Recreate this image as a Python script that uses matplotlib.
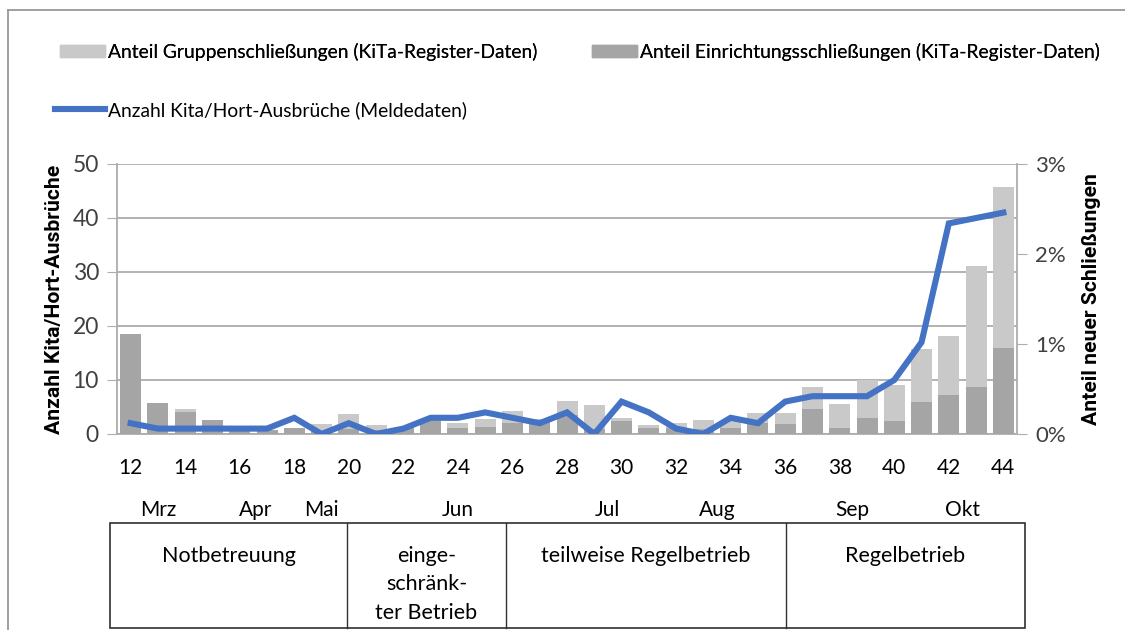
import numpy as np
import matplotlib
matplotlib.use("Agg")
import matplotlib.pyplot as plt
from matplotlib.patches import Rectangle
from matplotlib.lines import Line2D
from matplotlib.ticker import PercentFormatter
from matplotlib.transforms import blended_transform_factory

plt.rcParams["font.family"] = ["Lato", "DejaVu Sans"]

# calendar weeks 12..44
weeks = list(range(12, 45))
# share of new facility closures (dark) and group closures (light, stacked on top), in %
einrichtung = [1.11, 0.34, 0.25, 0.16, 0.05, 0.04, 0.07, 0.03, 0.06, 0.05, 0.07, 0.15,
               0.07, 0.08, 0.12, 0.13, 0.21, 0.06, 0.14, 0.07, 0.07, 0.06, 0.07, 0.12,
               0.11, 0.28, 0.07, 0.18, 0.14, 0.36, 0.43, 0.52, 0.96]
gruppe = [0.00, 0.00, 0.03, 0.00, 0.01, 0.01, 0.00, 0.08, 0.16, 0.05, 0.00, 0.01,
          0.05, 0.09, 0.14, 0.04, 0.16, 0.26, 0.04, 0.03, 0.05, 0.10, 0.07, 0.11,
          0.12, 0.24, 0.26, 0.42, 0.40, 0.58, 0.66, 1.35, 1.79]
# number of Kita/Hort outbreaks (reporting data)
ausbrueche = [2, 1, 1, 1, 1, 1, 3, 0, 2, 0, 1, 3, 3, 4, 3, 2, 4, 0, 6, 4, 1, 0,
              3, 2, 6, 7, 7, 7, 10, 17, 39, 40, 41]

month_labels = ["Mrz", "Apr", "Mai", "Jun", "Jul", "Aug", "Sep", "Okt"]
month_pos = [13.0, 16.6, 19.0, 24.0, 29.5, 33.5, 38.45, 42.5]
phases = ["Notbetreuung", "einge-\nschränk-\nter Betrieb", "teilweise Regelbetrieb", "Regelbetrieb"]
phase_bounds_px = [110, 347, 506, 786, 1025]

C_LIGHT = "#C9C9C9"
C_DARK = "#A5A5A5"
C_LINE = "#4472C4"
C_GRID = "#ADADAD"
FS = 15
BOLD = ["Roboto", "DejaVu Sans"]

W, H = 1125, 630
fig = plt.figure(figsize=(W / 100, H / 100), dpi=100)

def px(x, y):
    return x / W, 1 - y / H

l, b = px(117, 434)
r, t = px(1017, 164)
ax = fig.add_axes([l, b, r - l, t - b])
ax2 = ax.twinx()
ax3 = ax.twinx()

x = np.array(weeks)
ein = np.array(einrichtung) / 100
gru = np.array(gruppe) / 100

# grid / left axis
ax.set_ylim(0, 50)
ax.set_yticks(range(0, 51, 10))
ax.grid(axis="y", color=C_GRID, lw=1.3)
ax.set_xlim(11.5, 44.5)
ax.set_xticks(range(12, 45, 2))
ax.tick_params(axis="x", length=0, labelsize=FS, pad=17)
ax.tick_params(axis="y", length=7, color=C_GRID, labelsize=16.5, labelcolor="#404040", pad=6)
for s in ["top", "right"]:
    ax.spines[s].set_visible(False)
for s in ["left", "bottom"]:
    ax.spines[s].set_color(C_GRID)
    ax.spines[s].set_linewidth(1.3)
ax.set_ylabel("Anzahl Kita/Hort-Ausbrüche", fontsize=15.2, fontweight="bold", family=BOLD, labelpad=6)

# bars on right axis
ax2.bar(x, ein, width=0.77, color=C_DARK, zorder=2)
ax2.bar(x, gru, width=0.77, bottom=ein, color=C_LIGHT, zorder=2)
ax2.set_ylim(0, 0.03)
ax2.set_yticks([0, 0.01, 0.02, 0.03])
ax2.yaxis.set_major_formatter(PercentFormatter(1.0, decimals=0))
ax2.tick_params(axis="y", length=7, color=C_GRID, labelsize=16, labelcolor="#404040", pad=6)
for s in ["top", "left", "bottom"]:
    ax2.spines[s].set_visible(False)
ax2.spines["right"].set_color(C_GRID)
ax2.spines["right"].set_linewidth(1.3)
ax2.set_ylabel("Anteil neuer Schließungen", fontsize=15.2, fontweight="bold", family=BOLD, labelpad=12)

# outbreak line on left scale
ax3.plot(x, ausbrueche, color=C_LINE, lw=4.4, solid_joinstyle="miter")
ax3.set_ylim(0, 50)
ax3.set_yticks([])
for s in ax3.spines.values():
    s.set_visible(False)

# month labels
mtrans = blended_transform_factory(ax.transData, fig.transFigure)
for m, p in zip(month_labels, month_pos):
    ax.text(p, 1 - 510 / H, m, transform=mtrans, ha="center", va="center", fontsize=FS)

# phase box
bx0, by0 = px(110, 628)
bx1, by1 = px(1025, 523)
fig.add_artist(Rectangle((bx0, by0), bx1 - bx0, by1 - by0, transform=fig.transFigure,
                         fill=False, ec="#303030", lw=1.2))
for xb in phase_bounds_px[1:-1]:
    xf = xb / W
    fig.add_artist(Line2D([xf, xf], [by0, by1], transform=fig.transFigure, color="#303030", lw=1.0))
for i, txt in enumerate(phases):
    xc = (phase_bounds_px[i] + phase_bounds_px[i + 1]) / 2 / W
    fig.text(xc, 1 - 546 / H, txt, ha="center", va="top", fontsize=15.5, linespacing=1.52)

# outer frame
fig.add_artist(Line2D([8 / W, 1], [1 - 10 / H, 1 - 10 / H], transform=fig.transFigure, color="#999999", lw=1.3))
fig.add_artist(Line2D([8 / W, 8 / W], [0, 1 - 10 / H], transform=fig.transFigure, color="#999999", lw=1.3))

# legend
handles = [Rectangle((0, 0), 1, 1, color=C_LIGHT), Rectangle((0, 0), 1, 1, color=C_DARK)]
leg1 = fig.legend(handles, ["Anteil Gruppenschließungen (KiTa-Register-Daten)",
                            "Anteil Einrichtungsschließungen (KiTa-Register-Daten)"],
                  loc="center left", bbox_to_anchor=px(60, 52), ncol=2, frameon=False,
                  fontsize=13.9, handlelength=2.35, handleheight=0.55, handletextpad=0.15,
                  columnspacing=2.8, borderpad=0, borderaxespad=0)
fig.add_artist(leg1)
fig.legend([Line2D([], [], color=C_LINE, lw=4.4)], ["Anzahl Kita/Hort-Ausbrüche (Meldedaten)"],
           loc="center left", bbox_to_anchor=px(55, 110), frameon=False, fontsize=13.9,
           handlelength=2.6, handletextpad=0.15, borderpad=0, borderaxespad=0)

fig.savefig("out.png", dpi=100)
